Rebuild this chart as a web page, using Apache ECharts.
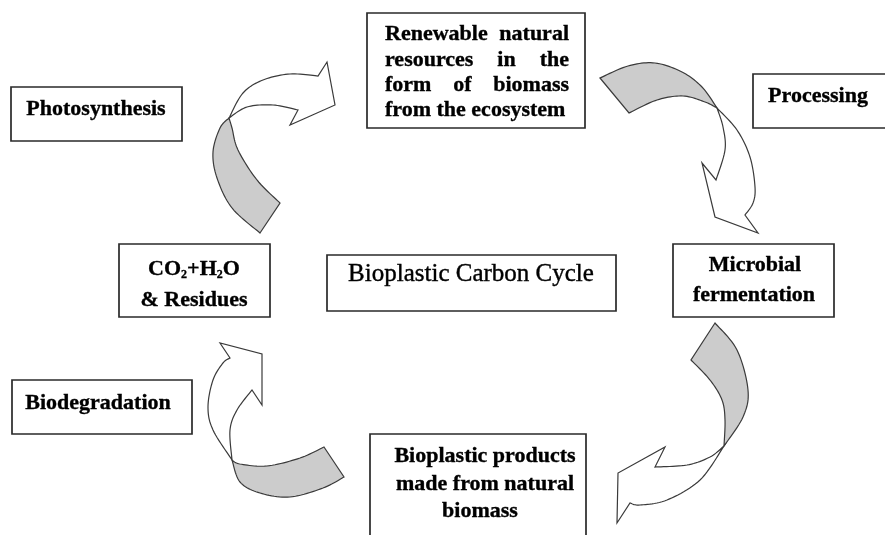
<!DOCTYPE html>
<html><head><meta charset="utf-8">
<script src="https://cdn.jsdelivr.net/npm/echarts@6/dist/echarts.min.js"></script>
<style>html,body{margin:0;padding:0;background:#fff}#c{width:885px;height:535px}</style>
</head><body><div id="c"></div>
<script>
// ---------- content ----------
const stageLines = [
  ['Renewable natural', 'resources in the', 'form of biomass', 'from the ecosystem'],
  ['Microbial', 'fermentation'],
  ['Bioplastic products', 'made from natural', 'biomass'],
  ['CO{s|2}+H{s|2}O', '& Residues']
];
const processLabels = ['Processing', 'Biodegradation', 'Photosynthesis'];
const centreTitle = 'Bioplastic Carbon Cycle';

// ---------- layout (pixels) ----------
const FAM = '"Liberation Serif","Times New Roman",serif';
const BOLD = 'bold 22px ' + FAM;
const stageBoxes = [
  {x0: 367, y0: 13, x1: 585, y1: 128, justify: true, tx0: 385, tx1: 569, ys: [34.5, 60.5, 85.5, 110.5]},
  {x0: 673, y0: 244, x1: 834, y1: 317, cx: [755, 754], ys: [265.5, 295.5]},
  {x0: 370, y0: 434, x1: 586, y1: 545, cx: [485, 485, 480], ys: [456, 484.5, 511]},
  {x0: 119, y0: 244, x1: 270, y1: 317, cx: [194, 194], ys: [269, 300.5]}
];
const processBoxes = [
  {x0: 753, y0: 74, x1: 895, y1: 128, cx: 818, cy: 96.5},
  {x0: 12, y0: 380, x1: 192, y1: 434, cx: 98, cy: 403},
  {x0: 11, y0: 87, x1: 182, y1: 141, cx: 96, cy: 109.5}
];
const centreBox = {x0: 327, y0: 255, x1: 616, y1: 311, cx: 471, cy: 274.5};

// curved arrow outlines: gray (back) ribbon + white head ribbon
const arrows = [
  { // top-left: CO2 -> renewable
    tail: [[260, 233], [280, 203]],
    grayIn: [[280, 203], [257, 180], [238, 150], [232, 128], [229, 118]],
    grayOut: [[229, 118], [220, 128], [213, 152], [217, 178], [232, 208], [260, 233]],
    whiteOut: [[229, 118], [243, 93], [263, 80], [290, 74], [318, 76]],
    head: [[327, 62], [335, 105], [290, 125]],
    whiteIn: [[298, 110], [273, 105], [247, 107], [229, 118]]
  },
  { // top-right: renewable -> microbial
    tail: [[600, 78], [629, 113]],
    grayIn: [[629, 113], [657, 100], [683, 96], [705, 102], [717, 108]],
    grayOut: [[717, 108], [702, 87], [682, 72], [655, 63], [628, 66], [600, 78]],
    whiteOut: [[717, 108], [737, 130], [750, 157], [755, 187], [753, 203], [745, 215]],
    head: [[758, 233], [715, 217], [702, 163]],
    whiteIn: [[716, 180], [725, 150], [723, 127], [717, 108]]
  },
  { // bottom-right: microbial -> products
    tail: [[715, 323], [691, 360]],
    grayIn: [[691, 360], [710, 380], [722, 400], [725, 420], [724, 446]],
    grayOut: [[724, 446], [743, 417], [748, 390], [737, 350], [715, 323]],
    whiteOut: [[724, 446], [700, 480], [667, 500], [640, 505], [630, 503]],
    head: [[617, 523], [618, 473], [665, 447]],
    whiteIn: [[655, 467], [687, 465], [710, 457], [724, 446]]
  },
  { // bottom-left: products -> CO2
    tail: [[324, 447], [344, 477]],
    grayIn: [[344, 477], [323, 488], [290, 497], [260, 493], [240, 482], [232, 460]],
    grayOut: [[232, 460], [240, 464], [267, 466], [300, 458], [324, 447]],
    whiteOut: [[232, 460], [213, 430], [208, 407], [213, 380], [223, 363], [230, 358]],
    head: [[220, 343], [262, 354], [262, 405]],
    whiteIn: [[252, 390], [237, 410], [230, 430], [232, 460]]
  }
];

// ---------- helpers ----------
function spline(pts, n) {
  const out = [];
  for (let i = 0; i < pts.length - 1; i++) {
    const p0 = pts[Math.max(0, i - 1)], p1 = pts[i], p2 = pts[i + 1], p3 = pts[Math.min(pts.length - 1, i + 2)];
    for (let k = 0; k < n; k++) {
      const t = k / n, t2 = t * t, t3 = t2 * t;
      const f = (a, b, c, d) => 0.5 * ((2 * b) + (-a + c) * t + (2 * a - 5 * b + 4 * c - d) * t2 + (-a + 3 * b - 3 * c + d) * t3);
      out.push([f(p0[0], p1[0], p2[0], p3[0]), f(p0[1], p1[1], p2[1], p3[1])]);
    }
  }
  out.push(pts[pts.length - 1]);
  return out;
}
const mctx = document.createElement('canvas').getContext('2d');
function tw(s, font) { mctx.font = font; return mctx.measureText(s).width; }

const els = [];
const STROKE = '#3a3a3a';
arrows.forEach(a => {
  const grayPts = [a.tail[0]].concat(spline(a.grayIn, 12)).concat(spline(a.grayOut, 12).slice(1));
  els.push({type: 'polygon', z: 1, shape: {points: grayPts},
    style: {fill: '#cccccc', stroke: STROKE, lineWidth: 1.2, lineJoin: 'miter'}});
  const whitePts = spline(a.whiteOut, 12).concat(a.head).concat(spline(a.whiteIn, 12));
  els.push({type: 'polygon', z: 2, shape: {points: whitePts},
    style: {fill: '#ffffff', stroke: STROKE, lineWidth: 1.2, lineJoin: 'miter'}});
});

function rect(b) {
  els.push({type: 'rect', z: 3, shape: {x: b.x0, y: b.y0, width: b.x1 - b.x0, height: b.y1 - b.y0},
    style: {fill: '#ffffff', stroke: '#2a2a2a', lineWidth: 1.7}});
}
function txt(s, x, y, font, align, extra) {
  els.push({type: 'text', z: 4, x: x, y: y,
    style: Object.assign({text: s, font: font, fill: '#000', align: align || 'center', verticalAlign: 'middle',
      textAlign: align || 'center', textVerticalAlign: 'middle', stroke: '#000', lineWidth: 0.35}, extra || {})});
}

stageBoxes.forEach((b, i) => {
  rect(b);
  const lines = stageLines[i];
  lines.forEach((ln, j) => {
    if (b.justify && j < lines.length - 1) {
      const words = ln.split(' ');
      const widths = words.map(w => tw(w, BOLD));
      const sum = widths.reduce((p, c) => p + c, 0);
      const gap = (b.tx1 - b.tx0 - sum) / (words.length - 1);
      let x = b.tx0;
      words.forEach((w, k) => { txt(w, x, b.ys[j], BOLD, 'left'); x += widths[k] + gap; });
    } else if (b.justify) {
      txt(ln, b.tx0, b.ys[j], BOLD, 'left');
    } else if (ln.indexOf('{s|') >= 0) {
      txt(ln, b.cx[j], b.ys[j], BOLD, 'center', {rich: {s: {font: 'bold 12px ' + FAM, padding: [11, 0, 0, 0], fill: '#000', stroke: '#000', lineWidth: 0.3}}});
    } else {
      txt(ln, b.cx[j], b.ys[j], BOLD, 'center');
    }
  });
});
processBoxes.forEach((b, i) => { rect(b); txt(processLabels[i], b.cx, b.cy, BOLD, 'center'); });
rect(centreBox);
txt(centreTitle, centreBox.cx, centreBox.cy, '25px ' + FAM, 'center', {lineWidth: 0.4});

const chart = echarts.init(document.getElementById('c'), null, {renderer: 'canvas', width: 885, height: 535});
chart.setOption({backgroundColor: '#ffffff', animation: false, graphic: {elements: els}});
</script>
</body></html>
